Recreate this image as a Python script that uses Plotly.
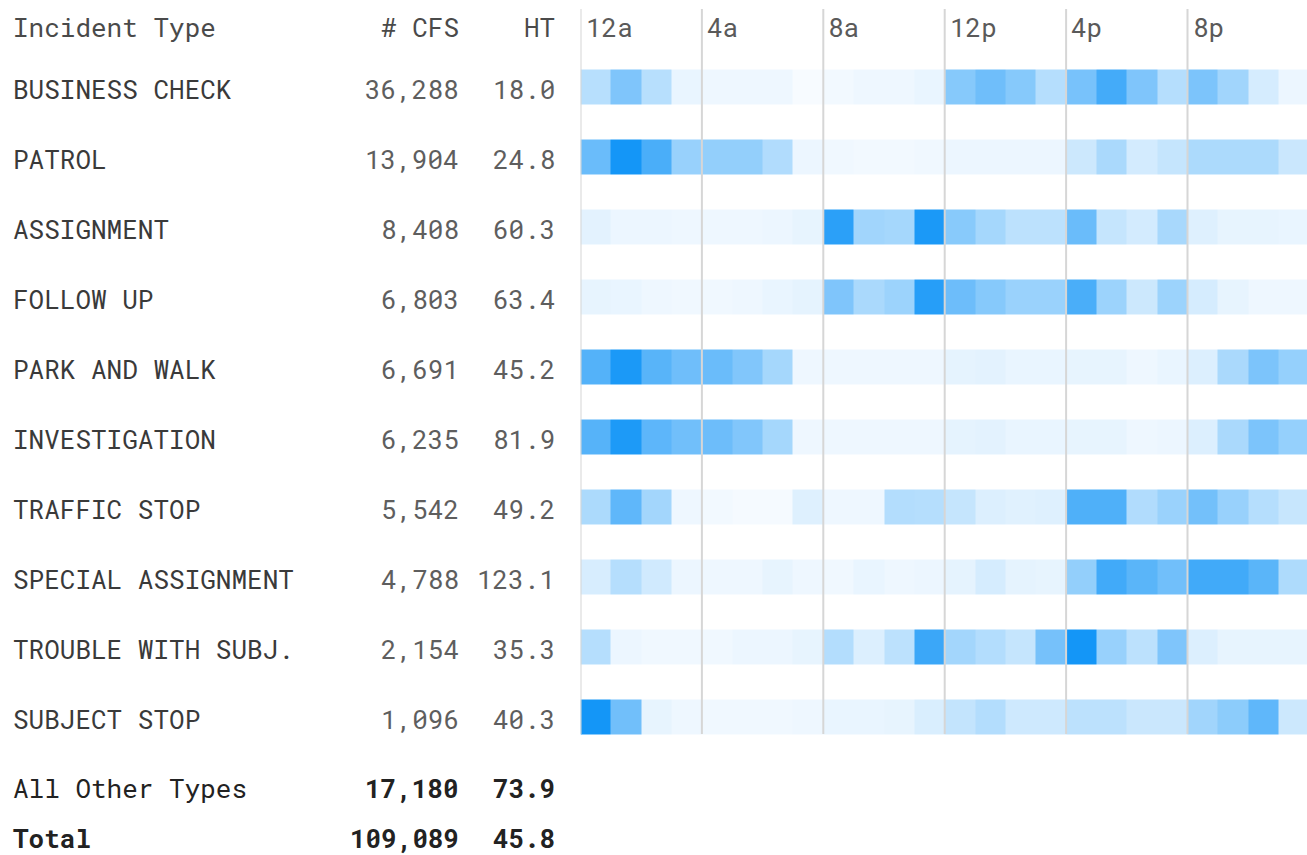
import plotly.graph_objects as go

W, H = 1307, 855

incident_types = ["BUSINESS CHECK", "PATROL", "ASSIGNMENT", "FOLLOW UP", "PARK AND WALK",
                  "INVESTIGATION", "TRAFFIC STOP", "SPECIAL ASSIGNMENT", "TROUBLE WITH SUBJ.",
                  "SUBJECT STOP"]
cfs_counts = [36288, 13904, 8408, 6803, 6691, 6235, 5542, 4788, 2154, 1096]
handling_time = [18.0, 24.8, 60.3, 63.4, 45.2, 81.9, 49.2, 123.1, 35.3, 40.3]
other_label, other_cfs, other_ht = "All Other Types", 17180, 73.9
total_label, total_cfs, total_ht = "Total", 109089, 45.8

hours = list(range(24))
hour_ticks = [0, 4, 8, 12, 16, 20]
hour_tick_labels = ["12a", "4a", "8a", "12p", "4p", "8p"]

# relative hourly intensity (0-1) per incident type, 12a .. 11p
hourly_intensity = [
    [0.28, 0.53, 0.28, 0.06, 0.04, 0.04, 0.04, 0.00, 0.02, 0.04, 0.04, 0.06,
     0.50, 0.60, 0.50, 0.29, 0.56, 0.79, 0.53, 0.29, 0.54, 0.38, 0.15, 0.05],
    [0.62, 1.00, 0.76, 0.42, 0.44, 0.44, 0.31, 0.05, 0.03, 0.02, 0.02, 0.03,
     0.05, 0.05, 0.05, 0.05, 0.19, 0.34, 0.16, 0.22, 0.33, 0.33, 0.33, 0.20],
    [0.09, 0.05, 0.05, 0.04, 0.04, 0.04, 0.05, 0.07, 0.90, 0.38, 0.36, 0.97,
     0.49, 0.36, 0.26, 0.26, 0.62, 0.22, 0.16, 0.35, 0.11, 0.07, 0.07, 0.06],
    [0.07, 0.06, 0.04, 0.03, 0.03, 0.04, 0.06, 0.08, 0.53, 0.34, 0.40, 0.92,
     0.61, 0.50, 0.41, 0.41, 0.76, 0.40, 0.19, 0.40, 0.15, 0.07, 0.04, 0.04],
    [0.72, 0.97, 0.70, 0.60, 0.62, 0.52, 0.36, 0.04, 0.04, 0.04, 0.04, 0.04,
     0.08, 0.09, 0.06, 0.06, 0.07, 0.07, 0.04, 0.06, 0.12, 0.34, 0.54, 0.43],
    [0.71, 0.96, 0.68, 0.59, 0.61, 0.52, 0.36, 0.04, 0.04, 0.04, 0.04, 0.04,
     0.08, 0.09, 0.06, 0.06, 0.07, 0.07, 0.04, 0.05, 0.12, 0.34, 0.54, 0.43],
    [0.33, 0.67, 0.37, 0.04, 0.02, 0.01, 0.01, 0.11, 0.04, 0.04, 0.30, 0.29,
     0.22, 0.12, 0.10, 0.11, 0.74, 0.74, 0.31, 0.41, 0.58, 0.42, 0.29, 0.21],
    [0.14, 0.29, 0.17, 0.05, 0.04, 0.04, 0.07, 0.04, 0.03, 0.06, 0.04, 0.05,
     0.08, 0.15, 0.08, 0.07, 0.44, 0.80, 0.69, 0.59, 0.80, 0.80, 0.69, 0.32],
    [0.29, 0.05, 0.03, 0.03, 0.03, 0.05, 0.05, 0.07, 0.30, 0.12, 0.26, 0.83,
     0.37, 0.30, 0.22, 0.57, 1.00, 0.42, 0.26, 0.53, 0.12, 0.07, 0.07, 0.07],
    [1.00, 0.59, 0.07, 0.04, 0.03, 0.03, 0.03, 0.04, 0.06, 0.06, 0.07, 0.13,
     0.23, 0.30, 0.18, 0.18, 0.26, 0.26, 0.20, 0.20, 0.38, 0.47, 0.67, 0.19],
]

FONT = "Roboto Mono, DejaVu Sans Mono, monospace"
NAME_C = "#3a3a3a"
NUM_C = "#5e5e5e"
HEAD_C = "#4a4a4a"
FS = 26

def px(x):
    return x / W

def py(y):
    return 1 - y / H

fig = go.Figure()
fig.add_trace(go.Heatmap(
    z=hourly_intensity,
    x=hours,
    y=list(range(len(incident_types))),
    zmin=0, zmax=1,
    colorscale=[[0, "#f7fbff"], [1, "#1496f7"]],
    showscale=False,
    ygap=35, xgap=0,
    hoverinfo="skip",
))

left_px = 580.5
cell_w = 30.35
x_end = -0.5 + (W - left_px) / cell_w
row_top_px = 52.5
row_pitch = 70
LX = 11
CX = 460.5
HX = 557

ann = []
# header
ann.append(dict(x=px(LX), y=py(27), text="Incident Type", xanchor="left", color=HEAD_C, bold=False))
ann.append(dict(x=px(CX), y=py(27), text="# CFS", xanchor="right", color=HEAD_C, bold=False))
ann.append(dict(x=px(HX), y=py(27), text="HT", xanchor="right", color=HEAD_C, bold=False))

for i, name in enumerate(incident_types):
    yc = 89 + row_pitch * i
    ann.append(dict(x=px(LX), y=py(yc), text=name, xanchor="left", color=NAME_C, bold=False))
    ann.append(dict(x=px(CX), y=py(yc), text=f"{cfs_counts[i]:,}", xanchor="right", color=NUM_C, bold=False))
    ann.append(dict(x=px(HX), y=py(yc), text=f"{handling_time[i]:.1f}", xanchor="right", color=NUM_C, bold=False))

for label, cfs, ht, yc in [(other_label, other_cfs, other_ht, 788), (total_label, total_cfs, total_ht, 838)]:
    bold = label == total_label
    ann.append(dict(x=px(LX), y=py(yc), text=label, xanchor="left", color="#222222", bold=bold))
    ann.append(dict(x=px(CX), y=py(yc), text=f"{cfs:,}", xanchor="right", color="#222222", bold=True))
    ann.append(dict(x=px(HX), y=py(yc), text=f"{ht:.1f}", xanchor="right", color="#222222", bold=True))

for a in ann:
    fig.add_annotation(
        x=a["x"], y=a["y"], xref="paper", yref="paper",
        text=a["text"], showarrow=False, xanchor=a["xanchor"], yanchor="middle",
        font=dict(family=FONT, size=FS, color=a["color"], weight="bold" if a["bold"] else "normal"),
    )

# hour tick labels and grid lines
for h, lab in zip(hour_ticks, hour_tick_labels):
    fig.add_shape(type="line", xref="x", yref="paper",
                  x0=h - 0.5, x1=h - 0.5, y0=py(734), y1=py(9),
                  line=dict(color="#d6d6d6", width=2), layer="above")
    fig.add_annotation(x=h - 0.5, y=py(27), xref="x", yref="paper", text=lab,
                       showarrow=False, xanchor="left", yanchor="middle", xshift=3,
                       font=dict(family=FONT, size=FS, color="#5a5a5a"))

fig.update_layout(
    width=W, height=H,
    margin=dict(l=0, r=0, t=0, b=0),
    paper_bgcolor="white", plot_bgcolor="white",
    xaxis=dict(domain=[left_px / W, 1], range=[-0.5, x_end], showgrid=False,
               zeroline=False, showticklabels=False, ticks="", fixedrange=True),
    yaxis=dict(domain=[py(row_top_px + row_pitch * 10), py(row_top_px)], range=[9.5, -0.5],
               showgrid=False, zeroline=False, showticklabels=False, ticks="", fixedrange=True),
    showlegend=False,
)

fig.write_html("out.html",
               config={"displayModeBar": False},
               post_script="document.body.style.margin='0';document.body.style.overflow='hidden';")
